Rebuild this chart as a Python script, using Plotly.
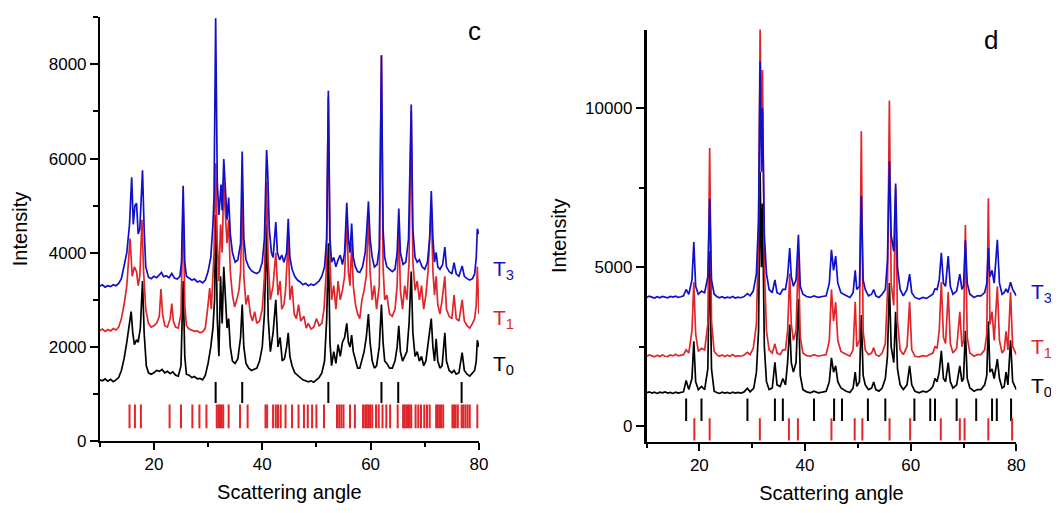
import plotly.graph_objects as go

# ---------------- panel c ----------------
c_T3 = [(10, 3290), (10.5, 3320), (11, 3270), (11.5, 3300), (12, 3280), (12.5, 3320), (13, 3300), (13.5, 3350),
        (14, 3450), (14.5, 3700), (15, 4000), (15.5, 4600), (15.9, 5600), (16.2, 4600), (16.5, 5000), (16.8, 5050),
        (17.1, 4400), (17.4, 4500), (17.9, 5750), (18.2, 4500), (18.5, 3700), (19, 3480), (19.5, 3450), (20, 3500),
        (20.5, 3470), (21, 3530), (21.4, 3580), (21.8, 3490), (22.3, 3510), (22.8, 3470), (23.3, 3560), (23.8, 3460),
        (24.3, 3440), (24.8, 3500), (25.1, 3800), (25.4, 5420), (25.7, 3800), (26, 3500), (26.5, 3460), (27, 3420),
        (27.5, 3440), (28, 3380), (28.5, 3400), (29, 3360), (29.5, 3420), (30, 3600), (30.5, 3900), (30.9, 4600),
        (31.1, 5200), (31.4, 8980), (31.7, 5500), (32, 4800), (32.4, 5450), (32.6, 4900), (32.9, 5990), (33.2, 5200),
        (33.5, 4700), (33.8, 5170), (34.1, 4400), (34.5, 4000), (35, 3800), (35.5, 3850), (36, 4200), (36.3, 6150),
        (36.6, 4300), (37, 3850), (37.5, 3700), (38, 3620), (38.5, 3580), (39, 3560), (39.5, 3600), (40, 3800),
        (40.4, 4300), (40.8, 6180), (41, 5740), (41.3, 4500), (41.7, 4000), (42, 3900), (42.5, 4650), (42.8, 4000),
        (43.2, 3850), (43.6, 3950), (44, 3800), (44.5, 4000), (44.8, 4720), (45.1, 3900), (45.5, 3650), (46, 3500),
        (46.5, 3420), (47, 3380), (47.5, 3320), (48, 3350), (48.5, 3300), (49, 3330), (49.5, 3310), (50, 3350),
        (50.5, 3400), (51, 3500), (51.5, 3700), (51.9, 4300), (52.2, 7440), (52.5, 4300), (52.8, 3800), (53.2, 3900),
        (53.6, 3700), (54, 3850), (54.4, 3950), (54.8, 3750), (55.2, 4000), (55.6, 5060), (55.9, 4300), (56.2, 4000),
        (56.5, 4620), (56.8, 3900), (57.2, 3700), (57.6, 3600), (58, 3580), (58.5, 3700), (59, 4000), (59.3, 4500),
        (59.6, 5090), (59.9, 4300), (60.3, 3900), (60.7, 3700), (61.2, 3750), (61.6, 4100), (62, 8190), (62.3, 4500),
        (62.6, 3900), (63, 3700), (63.5, 3650), (64, 3600), (64.5, 3650), (64.9, 4000), (65.2, 4940), (65.5, 4000),
        (66, 3750), (66.5, 3800), (67, 4300), (67.5, 7150), (67.8, 4500), (68.2, 3900), (68.6, 3800), (69, 3850),
        (69.5, 3700), (70, 3650), (70.5, 3800), (70.9, 4300), (71.2, 5310), (71.5, 4300), (71.8, 3800), (72.1, 4010),
        (72.4, 3700), (72.8, 3650), (73.3, 3750), (73.7, 4120), (74, 3700), (74.5, 3600), (75, 3550), (75.4, 3790),
        (75.8, 3550), (76.3, 3500), (76.9, 3720), (77.3, 3500), (77.8, 3450), (78.3, 3420), (78.8, 3450), (79.2, 3550),
        (79.5, 3900), (79.7, 4510), (80, 4400)]

c_T1 = [(10, 2350), (10.5, 2380), (11, 2330), (11.5, 2370), (12, 2340), (12.5, 2390), (13, 2360), (13.5, 2420),
        (14, 2600), (14.5, 2900), (15, 3300), (15.6, 4300), (16, 3500), (16.4, 3700), (16.8, 3600), (17.1, 3300),
        (17.4, 3500), (17.8, 4700), (18.1, 3600), (18.5, 2800), (19, 2500), (19.5, 2420), (20, 2450), (20.5, 2500),
        (21, 2650), (21.3, 3230), (21.6, 2700), (22, 2450), (22.5, 2420), (23, 2600), (23.3, 2920), (23.6, 2550),
        (24, 2420), (24.5, 2400), (25, 2700), (25.4, 5100), (25.7, 2900), (26, 2450), (26.5, 2380), (27, 2360),
        (27.5, 2330), (28, 2340), (28.5, 2300), (29, 2320), (29.5, 2400), (30, 2900), (30.3, 3250), (30.6, 2800),
        (30.9, 3400), (31.1, 4000), (31.4, 5900), (31.7, 4200), (32, 3400), (32.3, 4600), (32.6, 4000), (32.9, 5500),
        (33.2, 4800), (33.5, 4200), (33.8, 4700), (34.1, 3600), (34.5, 3100), (34.9, 2850), (35.3, 3000), (35.7, 3200),
        (36, 3600), (36.3, 5200), (36.6, 3500), (37, 2900), (37.4, 3100), (37.8, 2700), (38.2, 2550), (38.6, 2750),
        (39, 2500), (39.5, 2550), (40, 2800), (40.4, 3500), (40.8, 5500), (41.1, 3800), (41.5, 3000), (42, 3300),
        (42.5, 4000), (42.9, 3100), (43.3, 3400), (43.6, 2800), (44, 2900), (44.3, 3200), (44.8, 4300), (45.1, 3000),
        (45.5, 3300), (45.9, 2700), (46.3, 2600), (46.7, 2900), (47.1, 2550), (47.7, 2650), (48.1, 2400), (48.5, 2500),
        (49, 2380), (49.5, 2420), (50, 2600), (50.5, 2450), (51, 2500), (51.4, 2800), (51.8, 3600), (52.2, 7300),
        (52.5, 3800), (52.8, 3000), (53.2, 3300), (53.6, 2800), (54, 3400), (54.4, 3000), (54.8, 3200), (55.2, 3500),
        (55.6, 4800), (55.9, 3600), (56.2, 3300), (56.5, 4200), (56.8, 3300), (57.2, 2900), (57.6, 2700), (58, 2600),
        (58.4, 3000), (58.8, 3200), (59.2, 3500), (59.6, 4800), (59.9, 3600), (60.3, 3000), (60.7, 3300), (61.1, 2800),
        (61.6, 3300), (62, 8200), (62.3, 3700), (62.6, 3000), (63, 3100), (63.5, 2700), (64, 2650), (64.5, 2800),
        (64.9, 3300), (65.2, 4600), (65.5, 3200), (65.9, 2800), (66.3, 3300), (66.7, 3000), (67.1, 3800), (67.5, 7000),
        (67.8, 3800), (68.2, 3200), (68.6, 3400), (69, 3000), (69.4, 3300), (69.8, 2800), (70.2, 3100), (70.6, 3600),
        (71.2, 5000), (71.5, 3600), (71.8, 3100), (72.1, 3500), (72.4, 2900), (72.8, 2700), (73.2, 3000), (73.7, 3500),
        (74, 2800), (74.5, 2650), (75, 2600), (75.4, 3100), (75.8, 2600), (76.3, 2550), (76.9, 3000), (77.3, 2550),
        (77.8, 2450), (78.3, 2400), (78.8, 2500), (79.2, 2600), (79.5, 2900), (79.7, 3700), (80, 2700)]

c_T0 = [(10, 1300), (10.5, 1280), (11, 1320), (11.5, 1270), (12, 1310), (12.5, 1260), (13, 1300), (13.5, 1350),
        (14, 1500), (14.5, 1750), (15, 2100), (15.5, 2500), (15.8, 2750), (16.1, 2300), (16.4, 2050), (16.8, 2150),
        (17.1, 2100), (17.5, 2400), (17.9, 3400), (18.2, 2300), (18.6, 1600), (19, 1450), (19.5, 1420), (20, 1450),
        (20.5, 1500), (21, 1480), (21.5, 1520), (22, 1450), (22.5, 1480), (23, 1430), (23.5, 1470), (24, 1400),
        (24.5, 1380), (25, 1600), (25.4, 3400), (25.7, 1800), (26, 1420), (26.5, 1400), (27, 1350), (27.5, 1370),
        (28, 1320), (28.5, 1330), (29, 1300), (29.5, 1400), (30, 1650), (30.5, 2000), (30.9, 2400), (31.2, 3000),
        (31.4, 4800), (31.7, 2600), (32, 1800), (32.3, 3500), (32.6, 2500), (32.9, 3700), (33.2, 3000), (33.5, 2400),
        (33.8, 2600), (34.1, 2000), (34.5, 1700), (35, 1650), (35.5, 1750), (36, 2200), (36.3, 2900), (36.6, 2000),
        (37, 1650), (37.5, 1550), (38, 1500), (38.5, 1520), (39, 1550), (39.5, 1700), (40, 2000), (40.4, 2700),
        (40.8, 4600), (41.1, 2600), (41.5, 1900), (42, 2300), (42.5, 3000), (42.9, 2000), (43.3, 2200), (43.7, 1700),
        (44.1, 1750), (44.5, 2000), (44.8, 2300), (45.1, 1800), (45.5, 1600), (46, 1450), (46.5, 1400), (47, 1350),
        (47.5, 1300), (48, 1280), (48.5, 1260), (49, 1280), (49.5, 1250), (50, 1300), (50.5, 1350), (51, 1450),
        (51.5, 1700), (51.9, 2600), (52.2, 4200), (52.5, 2100), (52.8, 1600), (53.2, 1900), (53.6, 1650), (54, 2050),
        (54.4, 1800), (54.8, 2100), (55.2, 2200), (55.6, 2500), (55.9, 2100), (56.2, 2000), (56.5, 2250), (56.8, 1900),
        (57.2, 1700), (57.6, 1550), (58, 1550), (58.4, 1700), (58.8, 1900), (59.2, 2200), (59.6, 2700), (59.9, 2100),
        (60.3, 1700), (60.7, 1550), (61.1, 1600), (61.6, 2000), (62, 2900), (62.3, 2100), (62.6, 1700), (63, 1650),
        (63.5, 1550), (64, 1550), (64.5, 1700), (64.9, 2000), (65.2, 2450), (65.5, 1900), (65.9, 1700), (66.3, 1800),
        (66.7, 1900), (67.1, 2500), (67.5, 3600), (67.8, 2300), (68.2, 1800), (68.6, 1900), (69, 1700), (69.4, 1800),
        (69.8, 1600), (70.2, 1700), (70.6, 2100), (71.2, 2600), (71.5, 2000), (71.8, 1700), (72.1, 2170), (72.4, 1700),
        (72.8, 1550), (73.2, 1600), (73.7, 2300), (74, 1700), (74.5, 1500), (75, 1450), (75.4, 1500), (75.8, 1420),
        (76.3, 1450), (76.9, 1880), (77.3, 1500), (77.8, 1420), (78.3, 1380), (78.8, 1450), (79.2, 1500), (79.5, 1700),
        (79.7, 2140), (80, 2000)]

c_ref_black = [31.4, 36.3, 52.2, 62.0, 65.1, 76.8]
c_ref_red = [15.5, 16.5, 17.6, 22.9, 25.0, 27.1, 28.4, 29.7, 31.6, 31.9, 32.2, 32.5, 32.8, 33.8, 35.9, 37.3,
             40.6, 40.9, 42.0, 42.5, 42.9, 43.4, 44.3, 45.5, 46.7, 47.7, 48.4, 49.2, 50.0, 51.4, 53.8, 54.2,
             54.6, 55.0, 56.2, 57.1, 58.6, 59.0, 59.3, 59.6, 59.9, 60.3, 61.0, 61.5, 62.2, 62.9, 63.6, 65.0,
             66.0, 66.3, 66.6, 66.9, 67.2, 67.5, 68.3, 68.8, 69.3, 69.9, 70.4, 70.9, 72.1, 72.4, 72.7, 73.0,
             73.4, 75.1, 75.4, 75.7, 76.1, 76.8, 77.1, 77.5, 77.9, 78.3, 79.7]

# ---------------- panel d ----------------
d_T3 = [(10, 4050), (10.5, 4090), (11, 4060), (11.5, 4030), (12, 4070), (12.5, 4040), (13, 4080), (13.5, 4050),
        (14, 4040), (14.5, 4080), (15, 4060), (15.5, 4090), (16, 4050), (16.5, 4070), (17, 4100), (17.5, 4300),
        (18, 4150), (18.6, 4600), (18.95, 5790), (19.3, 4400), (19.8, 4150), (20.4, 4250), (21, 4200), (21.6, 4700),
        (21.95, 7150), (22.3, 4600), (22.8, 4150), (23.3, 4080), (23.8, 4040), (24.3, 4070), (24.8, 4030),
        (25.3, 4060), (25.8, 4040), (26.3, 4080), (26.8, 4030), (27.3, 4060), (27.8, 4040), (28.4, 4070),
        (29.1, 4170), (29.6, 4100), (30.2, 4250), (30.8, 4800), (31.2, 6500), (31.5, 11470), (31.75, 8000),
        (31.95, 10000), (32.3, 6000), (32.7, 4800), (33.2, 4300), (33.8, 4200), (34.3, 4600), (34.7, 4200),
        (35.3, 4150), (35.8, 4300), (36.3, 4300), (36.7, 4700), (37.1, 5600), (37.4, 4700), (37.8, 4400),
        (38.3, 4600), (38.75, 6020), (39.1, 4400), (39.6, 4150), (40.3, 4080), (41, 4050), (41.7, 4100),
        (42.5, 4050), (43.3, 4080), (44, 4100), (44.6, 4500), (45.0, 5550), (45.4, 4900), (45.8, 5350), (46.2, 4500),
        (46.8, 4200), (47.3, 4150), (47.8, 4100), (48.5, 4050), (49.1, 4200), (49.5, 4900), (49.8, 4300),
        (50.3, 4400), (50.65, 7250), (51, 4600), (51.4, 4300), (52, 4100), (52.6, 4150), (53.0, 4300), (53.4, 4100),
        (54, 4050), (54.6, 4150), (55.2, 4300), (55.6, 5200), (55.97, 8330), (56.3, 6000), (56.8, 5500),
        (57.15, 7630), (57.5, 5000), (58, 4300), (58.6, 4100), (59.3, 4300), (59.8, 4780), (60.2, 4200),
        (60.8, 4050), (61.6, 4000), (62.3, 4050), (63, 4020), (63.7, 4100), (64.2, 4150), (64.6, 4320), (65.0, 4300),
        (65.4, 4600), (65.8, 5450), (66.2, 4500), (66.6, 4400), (67.1, 5350), (67.5, 4400), (68, 4150), (68.7, 4250),
        (69.3, 4780), (69.7, 4300), (70.0, 4400), (70.35, 5850), (70.7, 4500), (71.2, 4150), (72, 4050), (72.6, 4100),
        (73.3, 4100), (74, 4200), (74.4, 4500), (74.7, 5600), (75.0, 4700), (75.4, 4900), (75.8, 4500), (76.4, 5860),
        (76.8, 4500), (77.3, 4150), (77.7, 4200), (78.05, 4320), (78.4, 4200), (78.9, 4530), (79.3, 4300), (80, 4100)]

d_T1 = [(10, 2200), (10.5, 2240), (11, 2210), (11.5, 2180), (12, 2230), (12.5, 2190), (13, 2240), (13.5, 2200),
        (14, 2190), (14.5, 2240), (15, 2210), (15.5, 2260), (16, 2210), (16.5, 2230), (17, 2250), (17.5, 2400),
        (18, 2300), (18.6, 3000), (18.95, 4530), (19.3, 2900), (19.8, 2350), (20.4, 2450), (21, 2400), (21.6, 3200),
        (21.95, 8750), (22.3, 3300), (22.8, 2350), (23.3, 2250), (23.8, 2200), (24.3, 2240), (24.8, 2190),
        (25.3, 2230), (25.8, 2200), (26.3, 2250), (26.8, 2190), (27.3, 2220), (27.8, 2200), (28.4, 2230),
        (29.1, 2320), (29.6, 2250), (30.2, 2450), (30.8, 3200), (31.2, 6000), (31.5, 12500), (31.75, 9000),
        (31.95, 11200), (32.3, 5000), (32.7, 3000), (33.2, 2400), (33.8, 2300), (34.3, 2590), (34.7, 2300),
        (35.3, 2250), (35.8, 2400), (36.3, 2400), (36.7, 3000), (37.1, 4800), (37.4, 3200), (37.8, 2700),
        (38.3, 3000), (38.75, 5400), (39.1, 2800), (39.6, 2300), (40.3, 2220), (41, 2200), (41.7, 2250),
        (42.5, 2200), (43.3, 2230), (44, 2250), (44.6, 2700), (45.0, 4300), (45.4, 3300), (45.8, 3900), (46.2, 2700),
        (46.8, 2350), (47.3, 2300), (47.8, 2250), (48.5, 2200), (49.1, 2400), (49.5, 3910), (49.8, 2500),
        (50.3, 2700), (50.65, 9280), (51, 3000), (51.4, 2400), (52, 2250), (52.6, 2300), (53.0, 2470), (53.4, 2250),
        (54, 2200), (54.6, 2300), (55.2, 2600), (55.6, 4200), (55.97, 10240), (56.3, 4500), (56.8, 3800),
        (57.15, 7500), (57.5, 3300), (58, 2400), (58.6, 2250), (59.3, 2500), (59.8, 3910), (60.2, 2400),
        (60.8, 2200), (61.6, 2180), (62.3, 2220), (63, 2200), (63.7, 2250), (64.2, 2300), (64.6, 2500), (65.0, 2450),
        (65.4, 3000), (65.8, 4530), (66.2, 2800), (66.6, 2600), (67.1, 4220), (67.5, 2600), (68, 2300), (68.7, 2450),
        (69.3, 3600), (69.7, 2500), (70.0, 2700), (70.35, 6330), (70.7, 2800), (71.2, 2300), (72, 2200), (72.6, 2250),
        (73.3, 2250), (74, 2400), (74.4, 2900), (74.7, 7170), (75.0, 3200), (75.4, 3600), (75.8, 2700), (76.4, 4400),
        (76.8, 2700), (77.3, 2300), (77.7, 2400), (78.05, 2980), (78.4, 2400), (78.9, 4220), (79.3, 2500), (80, 2250)]

d_T0 = [(10, 1050), (10.5, 1080), (11, 1040), (11.5, 1070), (12, 1030), (12.5, 1070), (13, 1050), (13.5, 1080),
        (14, 1040), (14.5, 1060), (15, 1030), (15.5, 1070), (16, 1040), (16.5, 1060), (17, 1080), (17.5, 1440),
        (18, 1150), (18.6, 1500), (18.95, 2670), (19.3, 1400), (19.8, 1150), (20.4, 1250), (21, 1150), (21.6, 1800),
        (21.95, 5500), (22.3, 1800), (22.8, 1100), (23.3, 1060), (23.8, 1030), (24.3, 1070), (24.8, 1040),
        (25.3, 1060), (25.8, 1030), (26.3, 1070), (26.8, 1040), (27.3, 1060), (27.8, 1040), (28.4, 1070),
        (29.1, 1190), (29.6, 1080), (30.3, 1200), (30.8, 1700), (31.2, 3000), (31.5, 8000), (31.75, 5000),
        (31.95, 7000), (32.3, 2500), (32.7, 1400), (33.2, 1150), (33.8, 1200), (34.3, 2010), (34.7, 1300),
        (35.3, 1250), (35.8, 1500), (36.3, 1300), (36.7, 2000), (37.1, 3200), (37.4, 2000), (37.8, 1700),
        (38.3, 2000), (38.75, 4000), (39.1, 1600), (39.6, 1150), (40.3, 1080), (41, 1050), (41.7, 1100),
        (42.5, 1050), (43.3, 1070), (44, 1100), (44.6, 1400), (45.0, 2150), (45.4, 1700), (45.8, 1900), (46.2, 1400),
        (46.8, 1200), (47.3, 1150), (47.8, 1100), (48.5, 1060), (49.1, 1200), (49.5, 1700), (49.8, 1250),
        (50.3, 1400), (50.65, 3500), (51, 1600), (51.4, 1300), (52, 1150), (52.6, 1200), (53.0, 1390), (53.4, 1150),
        (54, 1100), (54.6, 1200), (55.2, 1500), (55.6, 2200), (55.97, 4500), (56.3, 2500), (56.8, 2000),
        (57.15, 3600), (57.5, 1800), (58, 1300), (58.6, 1150), (59.3, 1300), (59.8, 1900), (60.2, 1300),
        (60.8, 1100), (61.6, 1050), (62.3, 1100), (63, 1070), (63.7, 1150), (64.2, 1250), (64.6, 1500), (65.0, 1400),
        (65.4, 1700), (65.8, 2370), (66.2, 1500), (66.6, 1400), (67.1, 2000), (67.5, 1400), (68, 1200), (68.7, 1300),
        (69.3, 1900), (69.7, 1400), (70.0, 1500), (70.35, 3000), (70.7, 1500), (71.2, 1200), (72, 1100), (72.6, 1150),
        (73.3, 1150), (74, 1300), (74.4, 1600), (74.7, 3300), (75.0, 1700), (75.4, 1800), (75.8, 1500), (76.4, 2110),
        (76.8, 1500), (77.3, 1200), (77.7, 1250), (78.05, 1700), (78.4, 1300), (78.9, 2700), (79.3, 1400), (80, 1150)]

d_ref_black = [17.5, 20.4, 29.1, 34.3, 35.8, 41.7, 45.5, 47.0, 51.9, 55.2, 60.7, 63.7, 64.6, 68.7, 72.4, 75.4, 76.3, 79.0]
d_ref_red = [19.05, 21.95, 31.45, 36.95, 38.65, 45.0, 49.4, 50.85, 56.0, 59.9, 65.7, 69.3, 70.2, 74.7, 79.2]

BLUE = "#1010c8"
RED = "#e0262a"
BLACK = "#000000"
FONT = "Liberation Sans, Arial, sans-serif"

fig = go.Figure()


def add_trace(pts, color, xa, ya):
    fig.add_trace(go.Scatter(x=[p[0] for p in pts], y=[p[1] for p in pts], mode="lines",
                             line=dict(color=color, width=1.7), xaxis=xa, yaxis=ya,
                             showlegend=False, hoverinfo="skip"))


def add_refs(xs, yc, color, size, xa, ya):
    fig.add_trace(go.Scatter(x=xs, y=[yc] * len(xs), mode="markers",
                             marker=dict(symbol="line-ns", size=size, line=dict(color=color, width=2)),
                             xaxis=xa, yaxis=ya, showlegend=False, hoverinfo="skip"))


add_trace(c_T0, BLACK, "x", "y")
add_trace(c_T1, RED, "x", "y")
add_trace(c_T3, BLUE, "x", "y")
add_refs(c_ref_black, 1030, BLACK, 15, "x", "y")
add_refs(c_ref_red, 525, RED, 17, "x", "y")

add_trace(d_T0, BLACK, "x2", "y2")
add_trace(d_T1, RED, "x2", "y2")
add_trace(d_T3, BLUE, "x2", "y2")
add_refs(d_ref_black, 515, BLACK, 16, "x2", "y2")
add_refs(d_ref_red, -100, RED, 16, "x2", "y2")

W, H = 1059, 513

axis_common = dict(showline=True, linecolor="black", ticks="outside", tickcolor="black",
                   showgrid=False, zeroline=False, mirror=False, tickformat="d",
                   tickfont=dict(family=FONT, size=17, color="black"),
                   title_font=dict(family=FONT, size=20, color="black"))

fig.update_layout(
    width=W, height=H,
    margin=dict(l=0, r=0, t=0, b=0),
    paper_bgcolor="white", plot_bgcolor="white",
    xaxis=dict(domain=[92.5 / W, 475 / W], range=[10, 80], dtick=20, tick0=0, anchor="y",
               linewidth=1.5, ticklen=7, tickwidth=1.5,
               minor=dict(ticks="outside", dtick=10, tick0=0, ticklen=4, tickwidth=1.5, tickcolor="black"),
               title=dict(text="Scattering angle", standoff=12), **axis_common),
    yaxis=dict(domain=[(H - 441.7) / H, (H - 9) / H], range=[0, 9010], dtick=2000, tick0=0, anchor="x",
               linewidth=1.5, ticklen=8, tickwidth=1.5,
               minor=dict(ticks="outside", dtick=1000, tick0=0, ticklen=5, tickwidth=1.5, tickcolor="black"),
               title=dict(text="Intensity", standoff=16), **axis_common),
    xaxis2=dict(domain=[644 / W, 1017 / W], range=[10, 80], dtick=20, tick0=0, anchor="y2",
                linewidth=2, ticklen=7, tickwidth=2,
                minor=dict(ticks="outside", dtick=10, tick0=0, ticklen=4, tickwidth=2, tickcolor="black"),
                title=dict(text="Scattering angle", standoff=12), **axis_common),
    yaxis2=dict(domain=[(H - 442.7) / H, (H - 22) / H], range=[-500, 12475], dtick=5000, tick0=0, anchor="x2",
                linewidth=2.5, ticklen=8, tickwidth=2,
                minor=dict(ticks="outside", dtick=2500, tick0=0, ticklen=5, tickwidth=2, tickcolor="black"),
                title=dict(text="Intensity", standoff=14), **axis_common),
)

labels = [
    (487 / W, 1 - 267 / H, "T<sub>3</sub>", BLUE),
    (487 / W, 1 - 317 / H, "T<sub>1</sub>", RED),
    (487 / W, 1 - 364 / H, "T<sub>0</sub>", BLACK),
    (1030 / W, 1 - 291 / H, "T<sub>3</sub>", BLUE),
    (1030 / W, 1 - 347 / H, "T<sub>1</sub>", RED),
    (1030 / W, 1 - 387 / H, "T<sub>0</sub>", BLACK),
]
for x, y, t, col in labels:
    fig.add_annotation(x=x, y=y, xref="paper", yref="paper", text=t, showarrow=False,
                       xanchor="left", yanchor="middle", font=dict(family=FONT, size=21, color=col))

fig.add_annotation(x=471 / W, y=1 - 23 / H, xref="paper", yref="paper", text="c", showarrow=False,
                   xanchor="center", yanchor="middle", font=dict(family=FONT, size=26, color="black"))
fig.add_annotation(x=991 / W, y=1 - 33 / H, xref="paper", yref="paper", text="d", showarrow=False,
                   xanchor="center", yanchor="middle", font=dict(family=FONT, size=26, color="black"))

fig.write_html("out.html")
